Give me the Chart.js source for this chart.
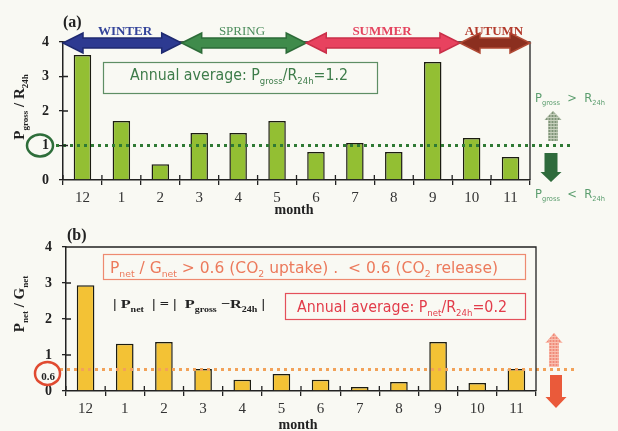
<!DOCTYPE html>
<html>
<head>
<meta charset="utf-8">
<script src="https://cdn.jsdelivr.net/npm/chart.js@4.4.1/dist/chart.umd.min.js"></script>
<style>
  html, body { margin: 0; padding: 0; background: #f9f9f3; }
  #wrap { position: relative; width: 618px; height: 431px; overflow: hidden; }
  canvas { position: absolute; left: 0; }
  #ca { top: 0; }
  #cb { top: 215px; }
</style>
</head>
<body>
<div id="wrap">
  <canvas id="ca" width="618" height="215"></canvas>
  <canvas id="cb" width="618" height="216"></canvas>
</div>
<script>
const months = ["12", "1", "2", "3", "4", "5", "6", "7", "8", "9", "10", "11"];
const grossRatio = [3.62, 1.71, 0.46, 1.36, 1.36, 1.71, 0.81, 1.07, 0.81, 3.42, 1.22, 0.67];
const netRatio = [2.94, 1.31, 1.36, 0.61, 0.31, 0.47, 0.31, 0.11, 0.25, 1.36, 0.22, 0.61];
const yMin = 0, yMax = 4;
const grossLine = 1;
const netLine = 0.6;
const seasonNames = ["WINTER", "SPRING", "SUMMER", "AUTUMN"];
const seasonStart = [-0.5, 2.55, 5.75, 9.7];
const seasonEnd = [2.55, 5.75, 9.7, 11.5];

const SERIF = "'Liberation Serif', 'DejaVu Serif', serif";
const SANS = "'DejaVu Sans', 'Open Sans', sans-serif";

// text with subscripts, parts = [[text, isSub], ...], optionally squeezed to a width
const richText = (ctx, parts, x, y, size, family, color, weight, targetW) => {
  ctx.save();
  ctx.fillStyle = color;
  ctx.textBaseline = "alphabetic";
  ctx.textAlign = "left";
  const fontFor = (sub) => `${weight || ""} ${sub ? Math.round(size * 0.62) : size}px ${family}`;
  let w = 0;
  parts.forEach(([t, sub]) => { ctx.font = fontFor(sub); w += ctx.measureText(t).width; });
  ctx.translate(x, y);
  if (targetW) ctx.scale(targetW / w, 1);
  let cx = 0;
  parts.forEach(([t, sub]) => {
    ctx.font = fontFor(sub);
    ctx.fillText(t, cx, sub ? size * 0.27 : 0);
    cx += ctx.measureText(t).width;
  });
  ctx.restore();
};

const dblArrow = (ctx, x1, x2, yc, fill, stroke) => {
  const bh = 5, hh = 10, hl = 20;
  ctx.save();
  ctx.beginPath();
  ctx.moveTo(x1, yc);
  ctx.lineTo(x1 + hl, yc - hh); ctx.lineTo(x1 + hl, yc - bh);
  ctx.lineTo(x2 - hl, yc - bh); ctx.lineTo(x2 - hl, yc - hh);
  ctx.lineTo(x2, yc);
  ctx.lineTo(x2 - hl, yc + hh); ctx.lineTo(x2 - hl, yc + bh);
  ctx.lineTo(x1 + hl, yc + bh); ctx.lineTo(x1 + hl, yc + hh);
  ctx.closePath();
  ctx.fillStyle = fill;
  ctx.fill();
  ctx.lineWidth = 1.5;
  ctx.strokeStyle = stroke;
  ctx.stroke();
  ctx.restore();
};

const vArrow = (ctx, xc, yTail, yTip, bodyW, headW, headL, fill, hatch) => {
  const dir = yTip < yTail ? -1 : 1;
  const yb = yTip - dir * headL;
  ctx.save();
  ctx.beginPath();
  ctx.moveTo(xc - bodyW / 2, yTail);
  ctx.lineTo(xc - bodyW / 2, yb);
  ctx.lineTo(xc - headW / 2, yb);
  ctx.lineTo(xc, yTip);
  ctx.lineTo(xc + headW / 2, yb);
  ctx.lineTo(xc + bodyW / 2, yb);
  ctx.lineTo(xc + bodyW / 2, yTail);
  ctx.closePath();
  ctx.fillStyle = fill;
  ctx.fill();
  if (hatch) {
    ctx.clip();
    ctx.strokeStyle = hatch;
    ctx.lineWidth = 1;
    for (let y = Math.min(yTail, yTip); y < Math.max(yTail, yTip); y += 3) {
      ctx.beginPath(); ctx.moveTo(xc - headW, y + 0.5); ctx.lineTo(xc + headW, y + 0.5); ctx.stroke();
    }
    for (let x = xc - headW / 2; x < xc + headW / 2; x += 3) {
      ctx.beginPath(); ctx.moveTo(x + 0.5, yTail); ctx.lineTo(x + 0.5, yTip); ctx.stroke();
    }
  }
  ctx.restore();
};

const dotted = (ctx, x1, x2, y, color) => {
  ctx.save();
  ctx.strokeStyle = color;
  ctx.lineWidth = 3;
  ctx.setLineDash([3, 4]);
  ctx.beginPath(); ctx.moveTo(x1, y); ctx.lineTo(x2, y); ctx.stroke();
  ctx.restore();
};

// inner tick marks and the right/top frame
const frame = (chart, withTop) => {
  const { ctx, chartArea: a, scales: { x, y } } = chart;
  ctx.save();
  ctx.strokeStyle = "#222";
  ctx.lineWidth = 1.3;
  ctx.beginPath();
  ctx.moveTo(a.right, a.bottom); ctx.lineTo(a.right, a.top);
  if (withTop) ctx.lineTo(a.left, a.top);
  const step = x.getPixelForValue(1) - x.getPixelForValue(0);
  for (let i = 0; i <= months.length; i++) {
    const px = x.getPixelForValue(0) + (i - 0.5) * step;
    ctx.moveTo(px, a.bottom); ctx.lineTo(px, a.bottom - 5);
  }
  for (let v = yMin + 1; v <= yMax; v++) {
    const py = y.getPixelForValue(v);
    ctx.moveTo(a.left, py); ctx.lineTo(a.left + 5, py);
  }
  ctx.stroke();
  ctx.restore();
};

const yTitle = (ctx, parts, cx, cy) => {
  ctx.save();
  ctx.translate(cx, cy);
  ctx.rotate(-Math.PI / 2);
  let w = 0;
  parts.forEach(([t, sub]) => {
    ctx.font = `bold ${sub ? 9 : 15}px ${SERIF}`;
    w += ctx.measureText(t).width;
  });
  richText(ctx, parts, -w / 2, 5, 15, SERIF, "#222", "bold");
  ctx.restore();
};

const panelA = {
  id: "panelA",
  afterDatasetsDraw(chart) {
    const { ctx, scales: { y } } = chart;
    dotted(ctx, 56, 570, y.getPixelForValue(grossLine), "#2f7a34");
  },
  afterDraw(chart) {
    const { ctx, scales: { x, y } } = chart;
    frame(chart, true);
    const step = x.getPixelForValue(1) - x.getPixelForValue(0);
    const px = (v) => x.getPixelForValue(0) + v * step;

    // seasons
    const fills = ["#2d3a91", "#3f8b4b", "#e8425f", "#8b2f1f"];
    const strokes = ["#1f2a70", "#2d6b38", "#c93049", "#b04a35"];
    const labelColors = ["#34449a", "#4c8d5c", "#e4445f", "#b2392a"];
    seasonNames.forEach((name, i) => {
      dblArrow(ctx, px(seasonStart[i]), px(seasonEnd[i]), 43, fills[i], strokes[i]);
    });
    const labelX = [125, 242, 382, 494];
    ctx.save();
    ctx.textAlign = "center";
    ctx.textBaseline = "alphabetic";
    seasonNames.forEach((name, i) => {
      ctx.font = `${i === 1 ? "" : "bold"} 13px ${SERIF}`;
      ctx.fillStyle = labelColors[i];
      ctx.fillText(name, labelX[i], 35);
    });
    ctx.font = `bold 16px ${SERIF}`;
    ctx.fillStyle = "#222";
    ctx.textAlign = "left";
    ctx.fillText("(a)", 63, 27);
    ctx.font = `bold 14px ${SERIF}`;
    ctx.textAlign = "center";
    ctx.fillText("month", 294, 214);
    ctx.restore();

    // annual average box
    ctx.save();
    ctx.strokeStyle = "#5e8e64";
    ctx.lineWidth = 1.2;
    ctx.strokeRect(103.5, 62.5, 274, 31);
    ctx.restore();
    richText(ctx, [["Annual average: P", 0], ["gross", 1], ["/R", 0], ["24h", 1], ["=1.2", 0]],
      130, 80, 15, SANS, "#3e7c4a", "", 218);

    // circle around 1
    ctx.save();
    ctx.strokeStyle = "#2e6e3a";
    ctx.lineWidth = 2.5;
    ctx.beginPath();
    ctx.ellipse(40, y.getPixelForValue(grossLine), 13, 11, 0, 0, Math.PI * 2);
    ctx.stroke();
    ctx.restore();

    yTitle(ctx, [["P", 0], ["gross", 1], [" / R", 0], ["24h", 1]], 19, 107);

    // right side legend
    richText(ctx, [["P", 0], ["gross", 1], ["  >  R", 0], ["24h", 1]], 535, 102, 12, SANS, "#5b9d6e", "", 70);
    richText(ctx, [["P", 0], ["gross", 1], ["  <  R", 0], ["24h", 1]], 535, 198, 12, SANS, "#5b9d6e", "", 70);
    vArrow(ctx, 553, 141, 111, 10, 17, 9, "#7f9478", "#c7d0bd");
    vArrow(ctx, 551, 153, 182, 13, 21, 10, "#2f6b3c");
  }
};

const panelB = {
  id: "panelB",
  afterDatasetsDraw(chart) {
    const { ctx, scales: { y } } = chart;
    dotted(ctx, 60, 575, y.getPixelForValue(netLine), "#f2a259");
  },
  afterDraw(chart) {
    const { ctx, scales: { y } } = chart;
    frame(chart, true);
    ctx.save();
    ctx.font = `bold 16px ${SERIF}`;
    ctx.fillStyle = "#222";
    ctx.fillText("(b)", 67, 25);
    ctx.font = `bold 14px ${SERIF}`;
    ctx.textAlign = "center";
    ctx.fillText("month", 298, 214);
    ctx.font = `bold 11px ${SERIF}`;
    ctx.fillText("0.6", 48, y.getPixelForValue(netLine) + 11);
    ctx.strokeStyle = "#e04a30";
    ctx.lineWidth = 2.5;
    ctx.beginPath();
    ctx.ellipse(47.5, y.getPixelForValue(netLine) + 4, 12.5, 11.5, 0, 0, Math.PI * 2);
    ctx.stroke();
    ctx.restore();

    // boxes
    ctx.save();
    ctx.lineWidth = 1.2;
    ctx.strokeStyle = "#ee8a70";
    ctx.strokeRect(103.5, 39.5, 422, 25);
    ctx.strokeStyle = "#e4505a";
    ctx.strokeRect(285.5, 78.5, 240, 26);
    ctx.restore();
    richText(ctx, [["P", 0], ["net", 1], [" / G", 0], ["net", 1], [" > 0.6 (CO", 0], ["2", 1],
      [" uptake) .  < 0.6 (CO", 0], ["2", 1], [" release)", 0]], 110, 58, 15, SANS, "#ec7a5c", "", 388);
    richText(ctx, [["Annual average: P", 0], ["net", 1], ["/R", 0], ["24h", 1], ["=0.2", 0]],
      297, 97, 15, SANS, "#e23c4a", "", 210);
    richText(ctx, [["| P", 0], ["net", 1], ["  | = |  P", 0], ["gross", 1], [" \u2212R", 0], ["24h", 1], [" |", 0]],
      113, 93, 13, SERIF, "#222", "bold", 152);

    yTitle(ctx, [["P", 0], ["net", 1], [" / G", 0], ["net", 1]], 19, 89);

    vArrow(ctx, 554, 152, 118, 10, 17, 10, "#f08a78", "#f9c0b0");
    vArrow(ctx, 556, 160, 193, 12, 21, 11, "#ea5a3a");
  }
};

const baseOptions = (padding, xHeight, yWidth) => ({
  responsive: false,
  animation: false,
  events: [],
  layout: { padding },
  plugins: { legend: { display: false }, tooltip: { enabled: false } },
  scales: {
    x: {
      offset: true,
      grid: { offset: true, drawOnChartArea: false, tickLength: 5, color: "#222", lineWidth: 1.3 },
      border: { color: "#222", width: 1.5 },
      ticks: { font: { family: SERIF, size: 15 }, color: "#333", padding: 4 },
      afterFit(s) { s.height = xHeight; }
    },
    y: {
      min: yMin, max: yMax,
      grid: { drawOnChartArea: false, tickLength: 4, color: "#222", lineWidth: 1.3 },
      border: { color: "#222", width: 1.5 },
      ticks: { stepSize: 1, font: { family: SERIF, size: 14, weight: "bold" }, color: "#222", padding: 10 },
      afterFit(s) { s.width = yWidth; }
    }
  }
});

new Chart(document.getElementById("ca"), {
  type: "bar",
  data: {
    labels: months,
    datasets: [{
      data: grossRatio,
      backgroundColor: "#93bf33",
      borderColor: "#1c1c12",
      borderWidth: 1.5,
      barPercentage: 0.45,
      categoryPercentage: 1
    }]
  },
  options: baseOptions({ left: 10, right: 88, top: 42, bottom: 0 }, 35, 53),
  plugins: [panelA]
});

new Chart(document.getElementById("cb"), {
  type: "bar",
  data: {
    labels: months,
    datasets: [{
      data: netRatio,
      backgroundColor: "#f3c235",
      borderColor: "#1c1c12",
      borderWidth: 1.5,
      barPercentage: 0.45,
      categoryPercentage: 1
    }]
  },
  options: baseOptions({ left: 12, right: 82, top: 32, bottom: 0 }, 40, 54),
  plugins: [panelB]
});
</script>
</body>
</html>
